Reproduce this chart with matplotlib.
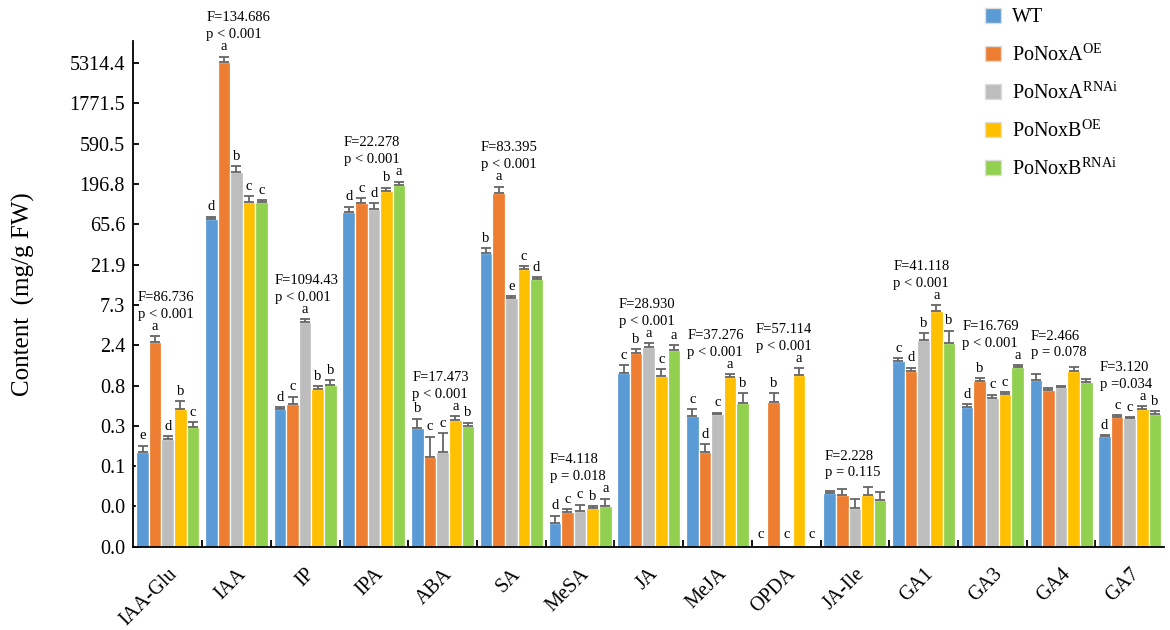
import matplotlib
matplotlib.use("Agg")
import matplotlib.pyplot as plt
from matplotlib.patches import Patch
import numpy as np

plt.rcParams['font.family'] = 'Liberation Serif'
plt.rcParams['mathtext.fontset'] = 'custom'
plt.rcParams['mathtext.rm'] = 'Liberation Serif'

groups = ["IAA-Glu", "IAA", "IP", "IPA", "ABA", "SA", "MeSA", "JA", "MeJA",
          "OPDA", "JA-Ile", "GA1", "GA3", "GA4", "GA7"]
series = ["WT", "PoNoxA$^{\\mathrm{OE}}$", "PoNoxA$^{\\mathrm{RNAi}}$",
          "PoNoxB$^{\\mathrm{OE}}$", "PoNoxB$^{\\mathrm{RNAi}}$"]
colors = ["#5B9BD5", "#ED7D31", "#BDBDBD", "#FFC000", "#92D050"]

wt     = [0.131, 75.8, 0.423, 92.5, 0.256, 29.7, 0.0189, 1.14, 0.353, 0, 0.0436, 1.57, 0.455, 0.94, 0.204]
oe_a   = [2.63, 5520, 0.493, 116, 0.115, 155, 0.0255, 1.95, 0.133, 0.52, 0.041, 1.21, 0.923, 0.722, 0.34]
rnai_a = [0.188, 275, 4.58, 98.7, 0.133, 8.73, 0.0267, 2.30, 0.373, 0, 0.029, 2.80, 0.581, 0.771, 0.335]
oe_b   = [0.427, 119.5, 0.736, 162.6, 0.316, 19.2, 0.029, 1.06, 1.02, 1.08, 0.0413, 6.22, 0.637, 1.19, 0.43]
rnai_b = [0.263, 119.5, 0.821, 190, 0.271, 14.6, 0.0301, 2.13, 0.503, 0, 0.0357, 2.60, 1.34, 0.891, 0.376]

wt_err     = [0.026, 5.0, 0.028, 13.5, 0.072, 4.4, 0.0044, 0.28, 0.07, 0, 0.0024, 0.13, 0.034, 0.16, 0.006]
oe_a_err   = [0.49, 810, 0.104, 19, 0.086, 28, 0.0022, 0.22, 0.031, 0.145, 0.0068, 0.11, 0.063, 0.035, 0.019]
rnai_a_err = [0.017, 47, 0.38, 19.3, 0.087, 0.63, 0.0047, 0.26, 0.013, 0, 0.0074, 0.56, 0.049, 0.029, 0.01]
oe_b_err   = [0.107, 22.4, 0.064, 15.4, 0.037, 1.8, 0.0011, 0.21, 0.09, 0.21, 0.01, 0.99, 0.042, 0.16, 0.033]
rnai_b_err = [0.036, 7.5, 0.112, 20, 0.023, 1.1, 0.0069, 0.31, 0.151, 0, 0.0087, 1.01, 0.07, 0.084, 0.025]

letters = ["eadbc", "dabcc", "dcabb", "dcdba", "bccab", "baecd", "dccba", "cbaca",
           "cdcab", "cbcac", "", "cdbab", "dbcca", "", "dccab"]
f_vals = ["86.736", "134.686", "1094.43", "22.278", "17.473", "83.395", "4.118", "28.930",
          "37.276", "57.114", "2.228", "41.118", "16.769", "2.466", "3.120"]
p_vals = ["p < 0.001", "p < 0.001", "p < 0.001", "p < 0.001", "p < 0.001", "p < 0.001",
          "p = 0.018", "p < 0.001", "p < 0.001", "p < 0.001", "p = 0.115", "p < 0.001",
          "p < 0.001", "p = 0.078", "p =0.034"]

means = np.array([wt, oe_a, rnai_a, oe_b, rnai_b], dtype=float)
errs = np.array([wt_err, oe_a_err, rnai_a_err, oe_b_err, rnai_b_err], dtype=float)

fig = plt.figure(figsize=(11.7, 6.3), dpi=100)
ax = fig.add_axes([0.114, 0.1322, 0.881, 0.8032])
ax.set_yscale('log')

ymin, ymax = 0.01, 9800
centers = np.arange(len(groups)) + 0.5
bw = 0.1834

for i in range(5):
    x = centers + (i - 2) * bw
    m = means[i]
    pos = m > 0
    ax.bar(x[pos], m[pos], width=bw, color=colors[i], edgecolor='white',
           linewidth=0.9, label=series[i], zorder=2)
    ax.errorbar(x[pos], m[pos], yerr=[np.zeros(pos.sum()), errs[i][pos]], fmt='none',
                ecolor='#666666', elinewidth=1.3, capsize=3.8, capthick=1.3, zorder=3)

# significance letters
for g in range(len(groups)):
    for i, lt in enumerate(letters[g]):
        x = centers[g] + (i - 2) * bw
        if means[i][g] > 0:
            ax.annotate(lt, (x, means[i][g] + errs[i][g]), xytext=(0, 4.5),
                        textcoords='offset points', ha='center', va='baseline', fontsize=10.5)
        else:
            ax.annotate(lt, (x, ymin), xytext=(0, 6),
                        textcoords='offset points', ha='center', va='baseline', fontsize=10.5)

# F and p texts
for g in range(len(groups)):
    top = (means[:, g] + errs[:, g]).max()
    if letters[g]:
        off_f, off_p = 25.5, 13.2
    else:
        off_f, off_p = 19.5, 7.5
    ax.annotate("F=" + f_vals[g], (g + 0.06, top), xytext=(0, off_f),
                textcoords='offset points', ha='left', va='baseline', fontsize=10.5)
    ax.annotate(p_vals[g], (g + 0.06, top), xytext=(0, off_p),
                textcoords='offset points', ha='left', va='baseline', fontsize=10.5)

yt = [0.01 * 3 ** k for k in range(13)]
ax.set_yticks(yt)
ax.set_yticklabels(["%.1f" % v for v in yt], fontsize=14.5)
ax.minorticks_off()
ax.set_ylim(ymin, ymax)
ax.set_xlim(0, len(groups))

ax.set_xticks(centers)
ax.set_xticklabels(groups, rotation=45, ha='right', rotation_mode='anchor', fontsize=14.5)
ax.tick_params(axis='x', which='major', length=0, pad=13)
ax.set_xticks(np.arange(1, len(groups)), minor=True)
ax.tick_params(axis='x', which='minor', direction='in', length=5, width=1.3)
ax.tick_params(axis='y', direction='in', length=4, width=1.3, pad=6)

ax.spines['top'].set_visible(False)
ax.spines['right'].set_visible(False)
ax.spines['left'].set_linewidth(1.3)
ax.spines['bottom'].set_linewidth(1.3)

ax.set_ylabel("Content  (mg/g FW)", fontsize=18, labelpad=25)

handles = [Patch(facecolor=c, edgecolor='#dddddd') for c in colors]
fig.legend(handles, series, loc='upper left', bbox_to_anchor=(0.830, 1.01), frameon=False,
           fontsize=14.5, handlelength=0.8, handleheight=0.8, handletextpad=0.55,
           labelspacing=0.8, borderpad=0.2)

plt.savefig('out.png', dpi=100)
